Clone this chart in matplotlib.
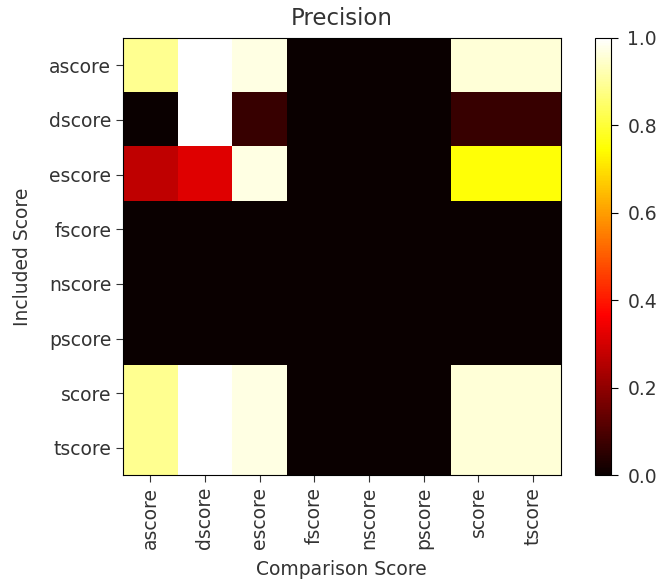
import numpy as np
import matplotlib
matplotlib.use("Agg")
import matplotlib.pyplot as plt

scores = ["ascore", "dscore", "escore", "fscore", "nscore", "pscore", "score", "tscore"]

# precision of included score (rows) vs comparison score (cols)
row_ascore = [0.89, 1.00, 0.97, 0.0, 0.0, 0.0, 0.96, 0.96]
row_dscore = [0.00, 1.00, 0.07, 0.0, 0.0, 0.0, 0.07, 0.07]
row_escore = [0.27, 0.32, 0.97, 0.0, 0.0, 0.0, 0.75, 0.75]
row_fscore = [0.0, 0.0, 0.0, 0.0, 0.0, 0.0, 0.0, 0.0]
row_nscore = [0.0, 0.0, 0.0, 0.0, 0.0, 0.0, 0.0, 0.0]
row_pscore = [0.0, 0.0, 0.0, 0.0, 0.0, 0.0, 0.0, 0.0]
row_score = [0.89, 1.00, 0.97, 0.0, 0.0, 0.0, 0.96, 0.96]
row_tscore = [0.89, 1.00, 0.97, 0.0, 0.0, 0.0, 0.96, 0.96]

precision = np.array([row_ascore, row_dscore, row_escore, row_fscore,
                      row_nscore, row_pscore, row_score, row_tscore])

fig = plt.figure(figsize=(6.61, 5.83), dpi=100)
ax = fig.add_axes([0.186, 0.185, 0.662, 0.75])
im = ax.imshow(precision, cmap="hot", vmin=0, vmax=1, aspect="auto")
ax.set_xticks(range(len(scores)))
ax.set_xticklabels(scores, rotation=90, fontsize=13.5)
ax.set_yticks(range(len(scores)))
ax.set_yticklabels(scores, fontsize=13.5)
ax.tick_params(length=5, color="#333333")
ax.set_xlabel("Comparison Score", fontsize=13.5, color="#333333", labelpad=8)
ax.set_ylabel("Included Score", fontsize=13.5, color="#333333", labelpad=12)
ax.set_title("Precision", fontsize=16.5, color="#333333", pad=9)
for lab in ax.get_xticklabels() + ax.get_yticklabels():
    lab.set_color("#333333")

cax = fig.add_axes([0.9, 0.185, 0.024, 0.75])
cb = fig.colorbar(im, cax=cax)
cb.ax.tick_params(labelsize=13.5, labelcolor="#333333", length=5, pad=7)

fig.savefig("out.png", dpi=100)
